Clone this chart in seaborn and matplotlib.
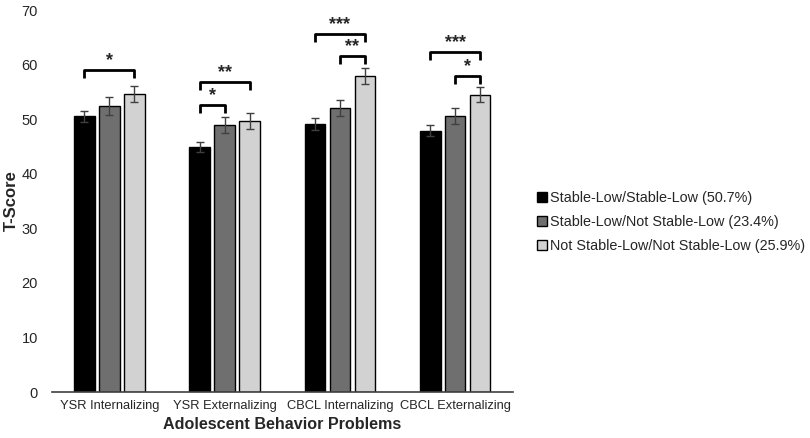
import pandas as pd
import matplotlib.pyplot as plt
import seaborn as sns

# ----------------------------------------------------------------------------
# Data
# ----------------------------------------------------------------------------
problems = ["YSR Internalizing", "YSR Externalizing",
            "CBCL Internalizing", "CBCL Externalizing"]
groups = ["Stable-Low/Stable-Low (50.7%)",
          "Stable-Low/Not Stable-Low (23.4%)",
          "Not Stable-Low/Not Stable-Low (25.9%)"]

stable_stable = [50.5, 44.9, 49.2, 47.9]
stable_not = [52.4, 48.9, 52.1, 50.6]
not_not = [54.6, 49.7, 57.9, 54.5]

err_stable_stable = [1.0, 1.0, 1.1, 1.0]
err_stable_not = [1.6, 1.5, 1.5, 1.4]
err_not_not = [1.4, 1.5, 1.4, 1.4]

# significance brackets: (category, first group, second group, height, label)
brackets = [
    (0, 0, 2, 59.0, "*"),
    (1, 0, 2, 56.8, "**"),
    (1, 0, 1, 52.6, "*"),
    (2, 0, 2, 65.6, "***"),
    (2, 1, 2, 61.6, "**"),
    (3, 0, 2, 62.3, "***"),
    (3, 1, 2, 57.9, "*"),
]

df = pd.DataFrame({
    "problem": problems * 3,
    "score": stable_stable + stable_not + not_not,
    "group": [groups[0]] * 4 + [groups[1]] * 4 + [groups[2]] * 4,
})
errors = [err_stable_stable, err_stable_not, err_not_not]

# ----------------------------------------------------------------------------
# Plot
# ----------------------------------------------------------------------------
sns.set_style("white")
plt.rcParams["font.family"] = ["Liberation Sans", "DejaVu Sans"]

palette = ["#000000", "#6f6f6f", "#d2d2d2"]

fig = plt.figure(figsize=(8.1, 4.38), dpi=100)
ax = fig.add_axes([0.064, 0.105, 0.569, 0.872])

sns.barplot(data=df, x="problem", y="score", hue="group", palette=palette,
            order=problems, hue_order=groups, errorbar=None,
            width=0.65, gap=0.17, edgecolor="black", linewidth=1, ax=ax)

# error bars on each bar
for cont, err in zip(ax.containers, errors):
    xs = [p.get_x() + p.get_width() / 2 for p in cont.patches]
    ys = [p.get_height() for p in cont.patches]
    ax.errorbar(xs, ys, yerr=err, fmt="none", ecolor="#404040",
                elinewidth=1, capsize=3, capthick=1, zorder=5)

# significance brackets
drop = 1.4
for cat, g1, g2, h, lab in brackets:
    x1 = ax.containers[g1].patches[cat]
    x2 = ax.containers[g2].patches[cat]
    xa = x1.get_x() + x1.get_width() / 2
    xb = x2.get_x() + x2.get_width() / 2
    ax.plot([xa, xa, xb, xb], [h - drop, h, h, h - drop], color="black",
            lw=2, solid_joinstyle="round", solid_capstyle="butt")
    ax.text((xa + xb) / 2, h + 0.1, lab, ha="center", va="bottom",
            fontsize=13, fontweight="bold")

ax.set_ylim(0, 70)
ax.set_yticks(range(0, 71, 10))
ax.set_xlim(-0.5, 3.5)
ax.tick_params(axis="y", labelsize=10.5, length=0, pad=10)
ax.tick_params(axis="x", labelsize=9.3, length=0, pad=6)
ax.set_ylabel("T-Score", fontsize=12, fontweight="bold", labelpad=2)
ax.set_xlabel("Adolescent Behavior Problems", fontsize=11.6,
              fontweight="bold", labelpad=3)

sns.despine(ax=ax, left=True)
ax.spines["bottom"].set_color("#404040")
ax.spines["bottom"].set_linewidth(1.2)

ax.legend(title=None, loc="center left", bbox_to_anchor=(1.052, 0.445),
          frameon=False, fontsize=10.4, handlelength=0.7, handleheight=0.7,
          handletextpad=0.2, labelspacing=0.67, borderpad=0,
          borderaxespad=0)

plt.savefig("out.png", dpi=100)
